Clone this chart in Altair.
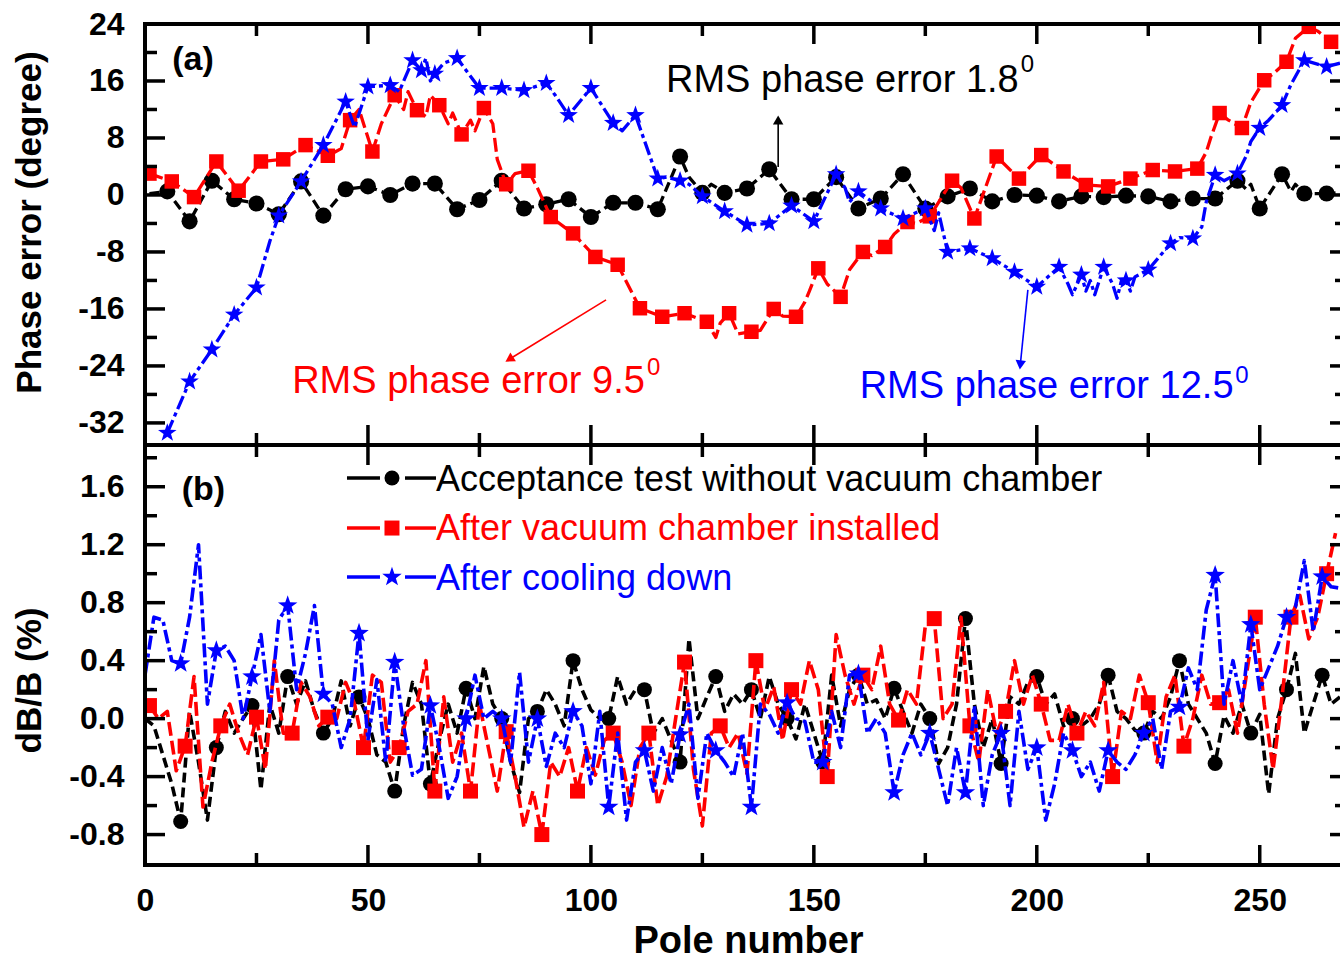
import altair as alt
import pandas as pd

FONT = "Liberation Sans"
BLACK, RED, BLUE = "#000000", "#ff0000", "#0000ff"
STAR = ("M0,-1L0.235,-0.324L0.951,-0.309L0.380,0.124L0.588,0.809L0,0.4"
        "L-0.588,0.809L-0.380,0.124L-0.951,-0.309L-0.235,-0.324Z")

# ===================== Panel (a): phase error (degree) =====================
a_black_mk_pole = [5, 10, 15, 20, 25, 30, 35, 40, 45, 50, 55, 60, 65, 70, 75, 80, 85, 90, 95, 100,
                   105, 110, 115, 120, 125, 130, 135, 140, 145, 150, 155, 160, 165, 170, 175, 180,
                   185, 190, 195, 200, 205, 210, 215, 220, 225, 230, 235, 240, 245, 250, 255, 260, 265]
a_black_mk_val = [0.5, -3.7, 2.0, -0.6, -1.2, -2.7, 1.9, -2.9, 0.8, 1.2, 0.0, 1.6, 1.6, -2.0, -0.7,
                  2.0, -1.9, -1.3, -0.6, -3.1, -1.1, -1.1, -2.0, 5.4, 0.3, 0.3, 0.9, 3.6, -0.6, -0.6,
                  2.5, -1.9, -0.5, 2.9, -1.9, -0.2, 0.9, -0.9, 0.0, -0.1, -0.9, -0.2, -0.3, -0.1,
                  -0.2, -0.9, -0.5, -0.5, 2.0, -1.9, 2.9, 0.2, 0.2]
a_black_ex_pole = [1, 122, 127, 247, 248, 257, 258, 259, 267]
a_black_ex_val = [0.2, 2.5, 1.5, 0.8, 1.5, 0.5, 1.5, 0.8, 0.3]

a_red_mk_pole = [1, 6, 11, 16, 21, 26, 31, 36, 41, 46, 51, 56, 61, 66, 71, 76, 81, 86, 91, 96,
                 101, 106, 111, 116, 121, 126, 131, 136, 141, 146, 151, 156, 161, 166, 171, 176,
                 181, 186, 191, 196, 201, 206, 211, 216, 221, 226, 231, 236, 241, 246, 251, 256,
                 261, 266]
a_red_mk_val = [3.0, 1.9, -0.3, 4.7, 0.6, 4.7, 5.0, 7.0, 5.5, 10.5, 6.1, 14.0, 11.9, 12.6, 8.5,
                12.2, 1.5, 3.4, -3.1, -5.4, -8.7, -9.8, -15.9, -17.1, -16.6, -17.8, -16.6, -19.2,
                -16.0, -17.1, -10.3, -14.3, -8.0, -7.3, -3.8, -3.0, 2.0, -3.3, 5.4, 2.3, 5.6, 3.3,
                1.4, 1.2, 2.3, 3.5, 3.3, 3.7, 11.5, 9.4, 16.1, 18.7, 23.6, 21.5]
a_red_ex_pole = [44, 48, 53, 58, 59, 63, 64, 68, 69, 73, 74, 78, 79, 83, 88, 128, 129, 133, 138,
                 143, 148, 149, 153, 158, 163, 168, 173, 178, 183, 238, 239, 243, 248, 253, 258,
                 263, 268]
a_red_ex_val = [6.5, 12.0, 10.0, 12.0, 14.5, 11.0, 14.0, 10.0, 11.5, 10.5, 9.0, 10.0, 5.0, 3.0,
                1.0, -20.0, -18.0, -19.5, -19.0, -17.0, -15.0, -13.5, -12.5, -10.5, -8.5, -5.5,
                -4.0, -1.0, 1.0, 6.0, 8.0, 10.5, 13.0, 17.0, 22.0, 23.0, 22.0]

a_blue_mk_pole = [5, 10, 15, 20, 25, 30, 35, 40, 45, 50, 55, 60, 62, 65, 70, 75, 80, 85, 90, 95,
                  100, 105, 110, 115, 120, 125, 130, 135, 140, 145, 150, 155, 160, 165, 170, 175,
                  180, 185, 190, 195, 200, 205, 210, 215, 220, 225, 230, 235, 240, 245, 250, 255,
                  260, 265]
a_blue_mk_val = [-33.4, -26.2, -21.7, -16.8, -13.0, -2.9, 1.9, 7.0, 13.1, 15.2, 15.4, 18.9, 17.5,
                 17.0, 19.2, 15.0, 15.0, 14.7, 15.7, 11.2, 15.0, 10.1, 11.2, 2.3, 2.0, -0.2, -2.3,
                 -4.2, -4.0, -1.5, -3.7, 2.9, 0.5, -1.9, -3.3, -1.9, -8.0, -7.5, -8.9, -10.8,
                 -12.9, -10.1, -11.2, -10.1, -12.0, -10.5, -6.8, -6.1, 2.8, 3.0, 9.4, 12.6, 18.9,
                 18.0]
a_blue_ex_pole = [28, 47, 57, 63, 64, 67, 72, 92, 107, 117, 122, 157, 158, 167, 177, 178, 207,
                  208, 211, 212, 213, 217, 218, 219, 221, 222, 232, 237, 238, 242, 247, 248, 252,
                  257, 268]
a_blue_ex_val = [-6.5, 9.5, 14.5, 19.2, 16.0, 18.5, 17.5, 14.0, 9.0, 2.5, 1.5, 1.0, -1.0, -2.5,
                 -5.0, -2.5, -12.5, -14.0, -13.5, -12.0, -14.0, -12.5, -14.5, -12.0, -13.5, -11.5,
                 -6.0, -4.5, -1.0, 2.0, 5.5, 7.5, 10.5, 15.5, 18.5]

# ===================== Panel (b): dB/B (%) =====================
b_even_poles = list(range(0, 269, 2))
b_odd_poles = list(range(1, 268, 2))
b_black_val = [
    0.0, -0.05, -0.25, -0.45, -0.71, 0.05, -0.3, -0.7, -0.20, 0.05,
    -0.1, 0.0, 0.09, -0.49, 0.1, -0.1, 0.29, 0.1, 0.26, 0.05,
    -0.10, 0.0, 0.26, -0.05, 0.15, 0.0, -0.25, -0.3, -0.50, -0.05,
    0.25, 0.1, -0.45, -0.15, 0.1, -0.1, 0.21, 0.0, 0.36, 0.1,
    0.0, -0.3, -0.51, 0.0, 0.05, 0.2, 0.1, -0.05, 0.40, 0.2,
    0.06, 0.0, 0.0, 0.29, 0.1, 0.2, 0.2, -0.1, 0.0, -0.15,
    -0.30, 0.55, 0.0, 0.15, 0.29, 0.05, 0.17, 0.1, 0.20, 0.0,
    0.29, 0.1, 0.0, -0.14, 0.1, -0.1, -0.30, 0.3, -0.05, 0.2,
    0.3, 0.1, 0.13, 0.0, 0.21, 0.05, -0.1, 0.1, 0.0, -0.31,
    -0.2, 0.1, 0.69, 0.1, -0.2, 0.0, -0.31, 0.15, 0.1, 0.25,
    0.29, 0.1, 0.17, -0.05, 0.0, -0.05, 0.0, 0.1, 0.30, 0.05,
    0.0, -0.08, -0.1, 0.05, 0.0, 0.15, 0.40, 0.1, 0.0, -0.1,
    -0.31, 0.02, -0.1, 0.1, -0.10, 0.03, -0.52, 0.0, 0.20, 0.45,
    -0.1, 0.1, 0.30, 0.1, 0.15]
b_red_val = [
    0.09, 0.0, 0.05, -0.36, -0.19, 0.29, -0.61, -0.3, -0.05, 0.1,
    -0.1, -0.25, 0.01, -0.35, 0.4, -0.1, -0.10, 0.25, 0.15, -0.05,
    0.01, 0.0, 0.25, 0.1, -0.20, 0.3, 0.25, -0.3, -0.2, 0.05,
    0.1, 0.4, -0.50, 0.15, -0.3, -0.1, -0.50, 0.1, -0.2, -0.5,
    -0.09, -0.4, -0.75, -0.5, -0.80, -0.3, -0.4, -0.2, -0.50, -0.2,
    -0.39, -0.15, -0.10, -0.3, -0.6, -0.2, -0.10, -0.6, -0.4, 0.0,
    0.39, -0.35, -0.74, -0.1, -0.05, -0.2, -0.1, -0.38, 0.40, 0.06,
    0.22, -0.15, 0.20, 0.1, 0.4, 0.2, -0.40, 0.58, 0.3, 0.1,
    0.3, 0.2, 0.5, 0.1, -0.01, 0.2, 0.1, 0.64, 0.69, 0.0,
    0.1, 0.7, -0.05, -0.3, 0.2, -0.1, 0.05, 0.4, 0.1, 0.3,
    0.1, -0.15, -0.15, 0.1, -0.10, 0.05, -0.05, 0.25, -0.40, 0.05,
    0.0, 0.3, 0.11, -0.3, 0.15, 0.3, -0.19, 0.0, 0.3, 0.1,
    0.11, 0.2, -0.1, 0.3, 0.70, 0.1, -0.35, 0.15, 0.70, 0.85,
    0.55, 0.7, 1.0, 1.28]
b_blue_val = [
    0.3, 0.7, 0.68, 0.4, 0.38, 0.7, 1.2, 0.1, 0.47, 0.5,
    0.4, 0.0, 0.29, 0.58, 0.05, 0.68, 0.78, 0.2, 0.45, 0.78,
    0.17, 0.1, -0.2, 0.0, 0.59, -0.15, 0.27, -0.3, 0.39, -0.05,
    -0.39, -0.35, 0.09, -0.2, -0.55, -0.4, 0.0, 0.3, 0.0, 0.05,
    0.0, -0.3, 0.32, -0.3, 0.0, -0.33, -0.1, -0.2, 0.05, -0.05,
    -0.45, 0.05, -0.61, -0.1, -0.7, -0.3, -0.22, -0.5, -0.2, -0.45,
    -0.11, 0.1, -0.55, -0.1, -0.22, -0.3, -0.4, -0.1, -0.61, 0.1,
    0.03, -0.1, 0.11, 0.0, -0.02, -0.3, -0.3, 0.05, -0.2, 0.3,
    0.31, -0.1, 0.0, -0.1, -0.51, -0.25, -0.1, -0.25, -0.10, -0.35,
    -0.6, -0.2, -0.51, 0.09, -0.6, -0.25, -0.10, -0.6, 0.05, -0.35,
    -0.2, -0.7, -0.45, -0.1, -0.22, -0.4, -0.3, -0.5, -0.22, -0.3,
    -0.35, -0.25, -0.1, 0.0, -0.35, 0.05, 0.08, 0.35, 0.2, 0.75,
    0.99, 0.1, 0.4, 0.1, 0.65, 0.2, 0.35, 0.5, 0.7, 0.77,
    1.09, 0.6, 0.98, 0.91, 0.9]

legend_labels = ["Acceptance test without vacuum chamber", "After vacuum chamber installed",
                 "After cooling down"]
legend_colors = [BLACK, RED, BLUE]

# tick values
x_major = [0, 50, 100, 150, 200, 250]
x_minor = [25, 75, 125, 175, 225]
ya_major = [-32, -24, -16, -8, 0, 8, 16, 24]
ya_minor = [-28, -20, -12, -4, 4, 12, 20]
yb_major = [-0.8, -0.4, 0.0, 0.4, 0.8, 1.2, 1.6]
yb_minor = [-0.6, -0.2, 0.2, 0.6, 1.0, 1.4, 1.8]

# ===================== layout / scales =====================
W, HA, HB = 1195, 421, 420
XMAX = 268.0
xs = alt.Scale(domain=[0, XMAX], nice=False, zero=False)
ysa = alt.Scale(domain=[-35.1, 24], nice=False, zero=False)
ysb = alt.Scale(domain=[-1.01, 1.888], nice=False, zero=False)


def num_label(fmt):
    return "replace(format(datum.value, '" + fmt + "'), '\u2212', '-')"


common_label = dict(labelFont=FONT, labelFontSize=32, labelFontWeight="bold", labelColor="black",
                    ticks=False, tickSize=0, domain=False, grid=False, labelFlush=False,
                    labelOverlap=False)
common_title = dict(titleFont=FONT, titleFontWeight="bold", titleColor="black")

axis_a_y = alt.Axis(values=ya_major, labelExpr=num_label("d"), labelPadding=21,
                    title="Phase error (degree)", titleFontSize=35, titleX=-98, titleY=198,
                    titleAngle=270, titleBaseline="bottom", titleAlign="center",
                    **common_label, **common_title)
axis_b_y = alt.Axis(values=yb_major, labelExpr=num_label(".1f"), labelPadding=21,
                    title="dB/B (%)", titleFontSize=35, titleX=-98, titleY=235,
                    titleAngle=270, titleBaseline="bottom", titleAlign="center",
                    **common_label, **common_title)
axis_b_x = alt.Axis(values=x_major, format="d", labelPadding=20, title="Pole number",
                    titleFontSize=38, titleY=57, titleX=603, titleBaseline="top",
                    titleAlign="center", **common_label, **common_title)

# every layer of a panel gets the same axis definition so that the merged axis is kept
PANEL_A = dict(x=dict(scale=xs, axis=None), y=dict(scale=ysa, axis=axis_a_y))
PANEL_B = dict(x=dict(scale=xs, axis=axis_b_x), y=dict(scale=ysb, axis=axis_b_y))


def X(field, P):
    return alt.X(field, **P["x"])


def Y(field, P):
    return alt.Y(field, **P["y"])


def line_df(mp, mv, ep, ev):
    return pd.DataFrame({"pole": mp + ep, "val": mv + ev}).sort_values("pole").reset_index(drop=True)


def pts_df(p, v):
    return pd.DataFrame({"pole": p, "val": v})


def line_layer(df, color, dash, P, lw):
    return alt.Chart(df).mark_line(color=color, strokeWidth=lw, strokeDash=dash, clip=True,
                                   strokeJoin="round").encode(
        x=X("pole:Q", P), y=Y("val:Q", P))


def point_layer(df, shape, color, size, P):
    return alt.Chart(df).mark_point(shape=shape, filled=True, color=color, size=size, opacity=1,
                                    strokeWidth=0, clip=True).encode(
        x=X("pole:Q", P), y=Y("val:Q", P))


ONE = pd.DataFrame({"k": [0]})


def frame(h):
    base = alt.Chart(ONE).mark_rule(color=BLACK, strokeWidth=4)
    return [
        base.encode(x=alt.value(0), y=alt.value(0), y2=alt.value(h)),
        base.encode(x=alt.value(-2), x2=alt.value(W), y=alt.value(0)),
        base.encode(x=alt.value(-2), x2=alt.value(W), y=alt.value(h)),
    ]


def xticks(vals, length, h, P):
    base = alt.Chart(pd.DataFrame({"t": vals})).mark_rule(color=BLACK, strokeWidth=3.5)
    return [base.encode(x=X("t:Q", P), y=alt.value(0), y2=alt.value(length)),
            base.encode(x=X("t:Q", P), y=alt.value(h - length), y2=alt.value(h))]


def yticks(vals, length, rlength, P):
    base = alt.Chart(pd.DataFrame({"t": vals})).mark_rule(color=BLACK, strokeWidth=3.5)
    return [base.encode(y=Y("t:Q", P), x=alt.value(0), x2=alt.value(length)),
            base.encode(y=Y("t:Q", P), x=alt.value(W - rlength), x2=alt.value(W))]


def text_layer(df, P, size, align, weight="normal", colored=True):
    enc = dict(x=X("pole:Q", P), y=Y("val:Q", P), text="text:N")
    if colored:
        enc["color"] = alt.Color("color:N", scale=None)
    return alt.Chart(df).mark_text(font=FONT, fontSize=size, align=align, baseline="alphabetic",
                                   fontWeight=weight, color=BLACK).encode(**enc)


# ---------------- panel (a) layers ----------------
a_black_line = line_df(a_black_mk_pole, a_black_mk_val, a_black_ex_pole, a_black_ex_val)
a_red_line = line_df(a_red_mk_pole, a_red_mk_val, a_red_ex_pole, a_red_ex_val)
a_blue_line = line_df(a_blue_mk_pole, a_blue_mk_val, a_blue_ex_pole, a_blue_ex_val)

ann_main = pd.DataFrame({
    "text": ["RMS phase error 1.8", "RMS phase error 9.5", "RMS phase error 12.5"],
    "pole": [156.4, 72.55, 202.2],
    "val": [14.46, -27.78, -28.48],
    "color": [BLACK, RED, BLUE],
})
ann_sup = pd.DataFrame({
    "text": ["0", "0", "0"],
    "pole": [196.4, 112.56, 244.5],
    "val": [17.26, -25.26, -26.38],
    "color": [BLACK, RED, BLUE],
})
arrows = pd.DataFrame({
    "x0": [142.0, 103.4, 198.0], "y0": [3.93, -14.73, -13.33],
    "x1": [142.0, 81.7, 196.3], "y1": [10.53, -23.07, -23.85],
    "ang": [0, 238, 186], "color": [BLACK, RED, BLUE],
})
label_a = pd.DataFrame({"text": ["(a)"], "pole": [10.76], "val": [17.54]})

PA = PANEL_A
layers_a = [
    line_layer(a_black_line, BLACK, [10, 5], PA, 3.3),
    point_layer(pts_df(a_black_mk_pole, a_black_mk_val), "circle", BLACK, 260, PA),
    line_layer(a_red_line, RED, [14, 5], PA, 3.3),
    point_layer(pts_df(a_red_mk_pole, a_red_mk_val), "square", RED, 210, PA),
    line_layer(a_blue_line, BLUE, [14, 4, 4, 4], PA, 3.3),
    point_layer(pts_df(a_blue_mk_pole, a_blue_mk_val), STAR, BLUE, 380, PA),
    text_layer(ann_main, PA, 38, "center"),
    text_layer(ann_sup, PA, 24, "left"),
    alt.Chart(arrows).mark_rule(strokeWidth=1.6).encode(
        x=X("x0:Q", PA), y=Y("y0:Q", PA), x2="x1:Q", y2="y1:Q",
        color=alt.Color("color:N", scale=None)),
    alt.Chart(arrows).mark_point(shape="triangle-up", filled=True, size=110, opacity=1,
                                 strokeWidth=0).encode(
        x=X("x1:Q", PA), y=Y("y1:Q", PA),
        angle=alt.Angle("ang:Q", scale=None), color=alt.Color("color:N", scale=None)),
    text_layer(label_a, PA, 34, "center", weight="bold", colored=False),
]
layers_a += xticks(x_major, 20, HA, PA) + xticks(x_minor, 12, HA, PA)
layers_a += yticks(ya_major, 20, 10, PA) + yticks(ya_minor, 12, 5, PA)
layers_a += frame(HA)

# ---------------- panel (b) layers ----------------
b_black = pd.DataFrame({"pole": b_even_poles, "val": b_black_val})
b_red = pd.DataFrame({"pole": b_odd_poles, "val": b_red_val})
b_blue = pd.DataFrame({"pole": b_even_poles, "val": b_blue_val})
b_black_mk = b_black[(b_black.pole % 8 == 0) & (b_black.pole > 0)]
b_red_mk = b_red[b_red.pole % 8 == 1]
b_blue_mk = b_blue[(b_blue.pole % 8 == 0) & (b_blue.pole > 0)]

# legend (drawn inside panel b)
LEG_SEG = [(45.30, 52.70), (58.31, 65.26)]
LEG_SYM_X = 55.39
LEG_TXT_X = 65.26
LEG_SYM_V = [1.660, 1.315, 0.977]
LEG_TXT_V = [1.573, 1.232, 0.887]
leg_seg = pd.DataFrame([
    {"label": lab, "x0": s[0], "x1": s[1], "v": v}
    for lab, v in zip(legend_labels, LEG_SYM_V) for s in LEG_SEG
])
leg_txt = pd.DataFrame({"label": legend_labels, "x": [LEG_TXT_X] * 3, "v": LEG_TXT_V})
leg_color = alt.Color("label:N", scale=alt.Scale(domain=legend_labels, range=legend_colors),
                      legend=None)
leg_shapes = ["circle", "square", STAR]
leg_sizes = [225, 225, 420]

label_b = pd.DataFrame({"text": ["(b)"], "pole": [13.1], "val": [1.509]})

PB = PANEL_B
layers_b = [
    line_layer(b_black, BLACK, [10, 5], PB, 3.6),
    point_layer(b_black_mk, "circle", BLACK, 225, PB),
    line_layer(b_red, RED, [14, 5], PB, 3.6),
    point_layer(b_red_mk, "square", RED, 225, PB),
    line_layer(b_blue, BLUE, [14, 4, 4, 4], PB, 3.6),
    point_layer(b_blue_mk, STAR, BLUE, 420, PB),
    alt.Chart(leg_seg).mark_rule(strokeWidth=3.5).encode(
        x=X("x0:Q", PB), x2="x1:Q", y=Y("v:Q", PB), color=leg_color),
    alt.Chart(leg_txt).mark_text(font=FONT, fontSize=36, align="left", baseline="alphabetic").encode(
        x=X("x:Q", PB), y=Y("v:Q", PB), text="label:N", color=leg_color),
    text_layer(label_b, PB, 34, "center", weight="bold", colored=False),
]
for i in range(3):
    layers_b.append(point_layer(pd.DataFrame({"pole": [LEG_SYM_X], "val": [LEG_SYM_V[i]]}),
                                leg_shapes[i], legend_colors[i], leg_sizes[i], PB))
layers_b += xticks(x_major, 20, HB, PB) + xticks(x_minor, 12, HB, PB)
layers_b += yticks(yb_major, 20, 10, PB) + yticks(yb_minor, 12, 5, PB)
layers_b += frame(HB)

panel_a = alt.layer(*layers_a).properties(width=W, height=HA)
panel_b = alt.layer(*layers_b).properties(width=W, height=HB)

chart = alt.vconcat(panel_a, panel_b, spacing=0, bounds="flush").properties(
    padding={"left": 12, "top": 8, "right": 0, "bottom": 0},
    background="white",
).configure_view(strokeOpacity=0)

chart.save("out.html", embed_options={"renderer": "svg", "actions": False})
